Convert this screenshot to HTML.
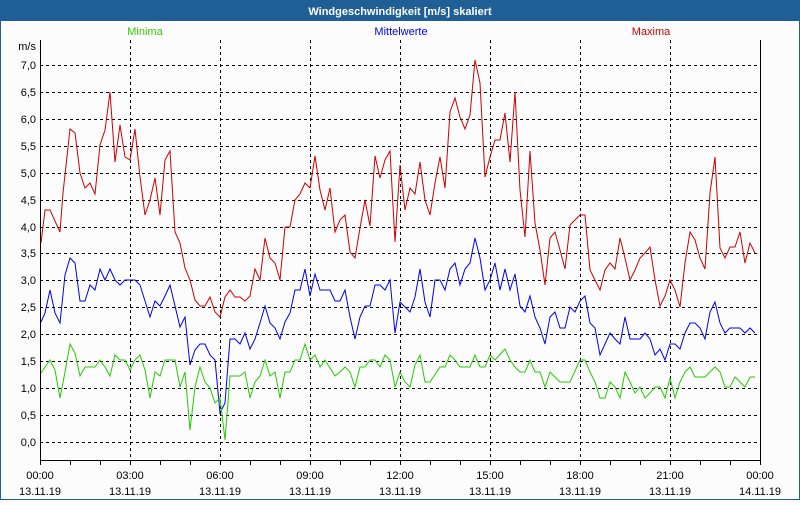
<!DOCTYPE html><html><head><style>body{margin:0;width:800px;height:500px;overflow:hidden;background:#fcfcfc;font-family:"Liberation Sans","DejaVu Sans",sans-serif}</style></head><body>
<svg width="800" height="500" xmlns="http://www.w3.org/2000/svg" font-family="Liberation Sans, DejaVu Sans, sans-serif" font-size="11">
<rect x="0" y="0" width="800" height="500" fill="#fcfcfc"/>
<rect x="0" y="0" width="800" height="21" fill="#1f5f96"/>
<rect x="0.5" y="20.5" width="799" height="479" fill="none" stroke="#1f5f96"/>
<text x="400" y="15" text-anchor="middle" fill="#fff" font-weight="bold" font-size="11">Windgeschwindigkeit [m/s] skaliert</text>
<text x="145" y="35" text-anchor="middle" fill="#33cc00">Minima</text>
<text x="401" y="35" text-anchor="middle" fill="#0000ee">Mittelwerte</text>
<text x="651" y="35" text-anchor="middle" fill="#cc0000">Maxima</text>
<text x="36" y="50" text-anchor="end" fill="#000">m/s</text>
<g stroke="#000" stroke-dasharray="3,3" stroke-width="1">
<line x1="40" x2="760" y1="65.5" y2="65.5"/><line x1="40" x2="760" y1="92.5" y2="92.5"/><line x1="40" x2="760" y1="119.5" y2="119.5"/><line x1="40" x2="760" y1="146.5" y2="146.5"/><line x1="40" x2="760" y1="173.5" y2="173.5"/><line x1="40" x2="760" y1="200.5" y2="200.5"/><line x1="40" x2="760" y1="227.5" y2="227.5"/><line x1="40" x2="760" y1="253.5" y2="253.5"/><line x1="40" x2="760" y1="280.5" y2="280.5"/><line x1="40" x2="760" y1="307.5" y2="307.5"/><line x1="40" x2="760" y1="334.5" y2="334.5"/><line x1="40" x2="760" y1="361.5" y2="361.5"/><line x1="40" x2="760" y1="388.5" y2="388.5"/><line x1="40" x2="760" y1="415.5" y2="415.5"/><line x1="40" x2="760" y1="442.5" y2="442.5"/>
<line x1="130.5" x2="130.5" y1="40" y2="460"/><line x1="220.5" x2="220.5" y1="40" y2="460"/><line x1="310.5" x2="310.5" y1="40" y2="460"/><line x1="400.5" x2="400.5" y1="40" y2="460"/><line x1="490.5" x2="490.5" y1="40" y2="460"/><line x1="580.5" x2="580.5" y1="40" y2="460"/><line x1="670.5" x2="670.5" y1="40" y2="460"/>
</g>
<path d="M40.5 40V460.5H760.5V40" fill="none" stroke="#000"/>
<g stroke="#000"><path d="M40.5 461v4M70.5 461v4M100.5 461v4M130.5 461v4M160.5 461v4M190.5 461v4M220.5 461v4M250.5 461v4M280.5 461v4M310.5 461v4M340.5 461v4M370.5 461v4M400.5 461v4M430.5 461v4M460.5 461v4M490.5 461v4M520.5 461v4M550.5 461v4M580.5 461v4M610.5 461v4M640.5 461v4M670.5 461v4M700.5 461v4M730.5 461v4M760.5 461v4"/></g>
<g fill="#000" text-anchor="end"><text x="36" y="69">7,0</text><text x="36" y="96">6,5</text><text x="36" y="123">6,0</text><text x="36" y="150">5,5</text><text x="36" y="177">5,0</text><text x="36" y="204">4,5</text><text x="36" y="231">4,0</text><text x="36" y="257">3,5</text><text x="36" y="284">3,0</text><text x="36" y="311">2,5</text><text x="36" y="338">2,0</text><text x="36" y="365">1,5</text><text x="36" y="392">1,0</text><text x="36" y="419">0,5</text><text x="36" y="446">0,0</text></g>
<g fill="#000" text-anchor="middle"><text x="40" y="479">00:00</text><text x="40" y="495">13.11.19</text><text x="130" y="479">03:00</text><text x="130" y="495">13.11.19</text><text x="220" y="479">06:00</text><text x="220" y="495">13.11.19</text><text x="310" y="479">09:00</text><text x="310" y="495">13.11.19</text><text x="400" y="479">12:00</text><text x="400" y="495">13.11.19</text><text x="490" y="479">15:00</text><text x="490" y="495">13.11.19</text><text x="580" y="479">18:00</text><text x="580" y="495">13.11.19</text><text x="670" y="479">21:00</text><text x="670" y="495">13.11.19</text><text x="760" y="479">00:00</text><text x="760" y="495">14.11.19</text></g>
<g fill="none" stroke-width="1">
<polyline stroke="#cc0000" points="41,243 45,210 50,210 60,232 63,193 70,129 75,133 80,173 85,188 90,183 95,194 100,145 105,130 110,92 115,162 120,125 125,157 130,160 135,129 140,177 145,215 150,200 155,178 160,215 165,160 170,151 175,232 180,243 185,268 190,280 195,300 200,306 205,306 210,297 215,312 220,317 225,297 230,290 235,297 240,297 245,301 250,296 255,269 260,280 265,238 270,258 275,263 280,280 285,227 290,227 295,200 300,194 305,183 310,188 315,156 320,190 325,210 330,188 335,232 340,220 345,215 350,252 355,258 360,228 365,200 370,226 375,156 380,178 385,160 390,151 395,242 400,165 405,210 410,188 415,194 420,162 425,200 430,215 435,183 440,157 445,188 450,112 455,98 460,117 465,129 470,115 475,60 480,83 485,177 490,157 495,140 500,140 505,113 510,162 515,92 520,190 525,237 530,151 535,223 540,250 545,285 550,238 555,232 560,250 565,269 570,225 575,220 580,215 585,215 590,270 595,280 600,290 605,270 610,263 615,269 620,238 625,258 630,280 635,270 640,258 645,253 650,247 655,280 660,306 665,296 670,280 675,290 680,307 685,263 690,232 695,240 700,258 705,269 710,193 715,157 720,248 725,258 730,247 735,247 740,232 745,263 750,243 755,253"/>
<polyline stroke="#0000ee" points="41,322 45,313 50,290 55,313 60,323 65,275 70,258 75,263 80,301 85,301 90,285 95,290 100,269 105,280 110,269 115,280 120,285 125,280 135,280 140,285 145,301 150,317 155,301 160,306 165,296 170,285 175,306 180,327 185,317 190,365 195,350 200,344 205,344 210,355 215,360 220,413 225,403 230,339 235,339 240,344 245,333 250,349 255,339 260,323 265,306 270,323 275,328 280,339 285,322 290,313 295,290 300,290 305,269 310,296 315,274 320,290 330,290 335,301 340,301 345,290 350,317 355,339 360,317 365,306 370,306 375,285 380,285 385,290 390,280 395,333 400,302 405,307 410,312 415,297 420,269 425,302 430,317 435,280 440,280 445,290 450,269 455,263 460,285 465,269 470,263 475,238 480,258 485,290 490,280 495,263 500,290 505,269 510,290 515,274 520,306 525,312 530,296 535,317 540,328 545,344 550,317 555,312 560,328 565,328 570,307 575,312 580,301 585,296 590,323 595,328 600,355 605,344 610,333 615,339 620,344 625,317 630,339 640,339 645,333 650,339 655,355 660,349 665,360 670,344 675,344 680,349 685,333 690,323 695,323 700,328 705,339 710,312 715,302 720,323 725,333 730,328 740,328 745,333 750,328 755,333"/>
<polyline stroke="#22cc00" points="41,373 45,367 50,360 55,370 60,398 65,372 70,344 75,353 80,376 85,367 95,367 100,360 105,367 110,376 115,355 120,360 125,360 130,370 135,360 140,355 145,370 150,398 155,372 160,376 165,360 175,360 180,387 185,372 190,430 195,387 200,367 205,382 210,388 215,403 220,398 225,440 230,376 240,376 245,372 250,398 255,382 260,376 265,360 270,376 275,372 280,398 285,372 290,372 295,360 300,360 305,344 310,360 315,355 320,367 325,360 335,376 340,372 345,367 350,372 355,387 360,367 365,367 370,360 375,360 380,367 385,355 390,360 395,387 400,372 405,382 410,387 415,365 420,355 425,382 430,382 440,367 445,367 450,355 455,360 460,367 470,367 475,355 480,367 485,367 490,355 495,360 505,349 510,360 515,367 520,372 525,372 530,360 535,372 540,372 545,387 550,372 555,377 560,382 570,382 580,360 585,360 590,372 595,382 600,398 605,398 610,382 615,387 620,398 625,372 630,382 635,393 640,387 645,398 650,393 655,387 660,387 665,398 670,378 675,398 680,382 685,372 690,367 695,377 705,377 715,367 720,372 725,387 730,387 735,377 745,387 750,377 755,377"/>
</g>
</svg></body></html>
